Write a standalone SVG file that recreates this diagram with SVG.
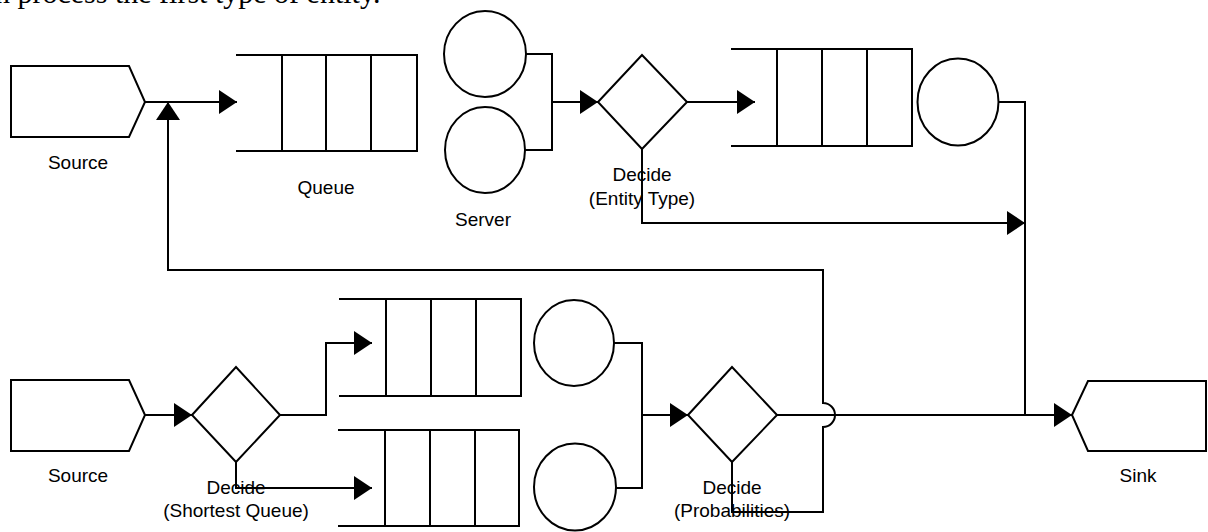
<svg xmlns="http://www.w3.org/2000/svg" width="1208" height="532" viewBox="0 0 1208 532">
  <defs>
    <style>
      .shape { fill: #ffffff; stroke: #000000; stroke-width: 2; }
      .line { fill: none; stroke: #000000; stroke-width: 2; }
      .label { font-family: "Liberation Sans", Arial, sans-serif; font-size: 19px; fill: #000000; text-anchor: middle; }
      .caption { font-family: "Liberation Serif", "Times New Roman", serif; font-size: 30px; fill: #000000; }
      .conn { fill: none; stroke: #000000; stroke-width: 2; marker-end: url(#arrow); }
    </style>
    <marker id="arrow" markerUnits="userSpaceOnUse" markerWidth="19" markerHeight="24" refX="18" refY="12" orient="auto">
      <path d="M0,0 L18,12 L0,24 Z" fill="#000000"/>
    </marker>
  </defs>

  <rect width="1208" height="532" fill="#ffffff"/>

  <!-- caption line from the surrounding text, clipped by the top edge -->
  <text class="caption" x="-5" y="3">n process the first type of entity.</text>

  <!-- connectors -->
  <g id="connectors">
    <path class="conn" d="M145,102 H237"/>
    <path class="line" d="M526,54 H552 V150 H525"/>
    <path class="conn" d="M552,102 H598"/>
    <path class="conn" d="M687,102 H755"/>
    <path class="conn" d="M642,149 V223 H1025"/>
    <path class="line" d="M999,102 H1025 V415"/>
    <path class="conn" d="M145,415 H192"/>
    <path class="conn" d="M280,415 H326 V343 H372"/>
    <path class="conn" d="M236,462 V488 H372"/>
    <path class="line" d="M614,343 H642 V488 H616"/>
    <path class="conn" d="M642,415 H688"/>
    <path class="conn" d="M777,415 H1072"/>
    <path class="conn" d="M732,462 V512 H823 V427 A12,12 0 0 0 823,403 V270 H168 V102"/>
  </g>

  <!-- upper line -->
  <g id="source1">
    <path class="shape" d="M11,66 H129 L145,102 L129,137 H11 Z"/>
    <text class="label" x="78" y="169">Source</text>
  </g>

  <g id="queue1">
    <path class="line" d="M236,55 H417 V151 H236 M282,55 V151 M326,55 V151 M371,55 V151"/>
    <text class="label" x="326" y="194">Queue</text>
  </g>

  <g id="server1">
    <ellipse class="shape" cx="485" cy="54" rx="41" ry="43"/>
    <ellipse class="shape" cx="485" cy="150" rx="40" ry="43"/>
    <text class="label" x="483" y="226">Server</text>
  </g>

  <g id="decide-entity-type">
    <path class="shape" d="M598,102 L642,55 L687,102 L642,149 Z"/>
    <text class="label" x="642" y="181">Decide</text>
    <text class="label" x="642" y="205">(Entity Type)</text>
  </g>

  <g id="queue2">
    <path class="line" d="M731,49 H912 V146 H731 M777,49 V146 M822,49 V146 M867,49 V146"/>
  </g>

  <g id="server2">
    <ellipse class="shape" cx="958" cy="102" rx="40.5" ry="43.5"/>
  </g>

  <!-- lower line -->
  <g id="source2">
    <path class="shape" d="M11,380 H129 L145,415 L129,451 H11 Z"/>
    <text class="label" x="78" y="482">Source</text>
  </g>

  <g id="decide-shortest-queue">
    <path class="shape" d="M192,415 L236,367 L280,415 L236,462 Z"/>
    <text class="label" x="236" y="494">Decide</text>
    <text class="label" x="236" y="517">(Shortest Queue)</text>
  </g>

  <g id="queue3">
    <path class="line" d="M339,299 H521 V396 H339 M386,299 V396 M431,299 V396 M476,299 V396"/>
  </g>

  <g id="queue4">
    <path class="line" d="M338,430 H519 V526 H338 M385,430 V526 M430,430 V526 M475,430 V526"/>
  </g>

  <g id="server3">
    <ellipse class="shape" cx="574" cy="343" rx="40" ry="43"/>
  </g>

  <g id="server4">
    <ellipse class="shape" cx="575" cy="487" rx="41" ry="43.5"/>
  </g>

  <g id="decide-probabilities">
    <path class="shape" d="M688,415 L732,367 L777,415 L732,462 Z"/>
    <text class="label" x="732" y="494">Decide</text>
    <text class="label" x="732" y="517">(Probabilities)</text>
  </g>

  <g id="sink">
    <path class="shape" d="M1072,415 L1088,381 H1206 V451 H1088 Z"/>
    <text class="label" x="1138" y="482">Sink</text>
  </g>
</svg>
